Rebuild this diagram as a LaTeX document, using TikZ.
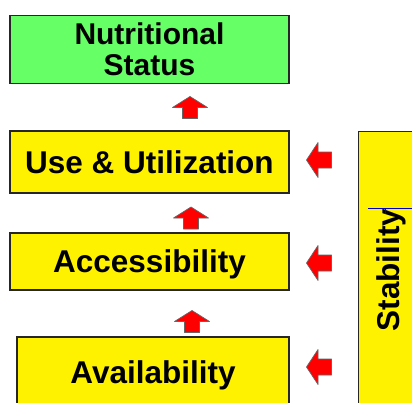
\documentclass[tikz,border=0pt]{standalone}
\usepackage{fontspec}
\setmainfont{Liberation Sans}
\usetikzlibrary{positioning}
\definecolor{nutgreen}{RGB}{102,255,102}

\tikzset{
    uparrow/.pic={
        \draw[draw=black!60, line width=0.7pt, fill=red, line join=round]
            (-7.5,11) -- (-7.5,0) -- (-17.5,0) -- (0,-11) -- (17.5,0) -- (7.5,0) -- (7.5,11) -- cycle;
    },
    leftarrow/.pic={
        \draw[draw=black!60, line width=0.7pt, fill=red, line join=round]
            (12.5,-8) -- (-1,-8) -- (-1,-17.5) -- (-12.5,0) -- (-1,17.5) -- (-1,8) -- (12.5,8) -- cycle;
    }
}

\begin{document}
\begin{tikzpicture}[x=1pt, y=-1pt,
    box/.style={rectangle, draw=black!85, line width=1.4pt, fill=yellow, inner sep=0pt,
        font=\fontsize{31.5}{31}\selectfont\bfseries, text height=22.5pt, text depth=0pt}]
    \clip (0,0) rectangle (412,402);

    \node[box, fill=nutgreen, minimum width=279pt, minimum height=68pt, align=center,
        font=\fontsize{30}{31}\selectfont\bfseries, text height=, text depth=] (nut) at (149.5,49.5) {Nutritional\\Status};
    \node[box, minimum width=279pt, minimum height=62pt] (use) at (149.5,162) {Use \& Utilization};
    \node[box, minimum width=279pt, minimum height=57pt] (acc) at (149.5,261.5) {Accessibility};
    \node[box, minimum width=272pt, minimum height=70pt] (avail) at (153,372) {Availability};

    \node[box, minimum width=80pt, minimum height=300pt, anchor=north west] (stab) at (358,131) {};
    \node[rotate=90, inner sep=0pt, font=\fontsize{31.5}{31}\selectfont\bfseries] (stabtext) at (391,270) {Stability};
    \draw[blue!80!black, line width=1pt] (368,208) -- (412,208);
    \draw[blue!80!black, line width=0.8pt] (385,208) -- (385,214);

    % arrows up the chain
    \pic at (190,107.5) {uparrow};
    \pic at (191,218) {uparrow};
    \pic at (192,321.5) {uparrow};

    % arrows from stability
    \pic at (319,160) {leftarrow};
    \pic at (319,263) {leftarrow};
    \pic at (319,367) {leftarrow};
\end{tikzpicture}
\end{document}
